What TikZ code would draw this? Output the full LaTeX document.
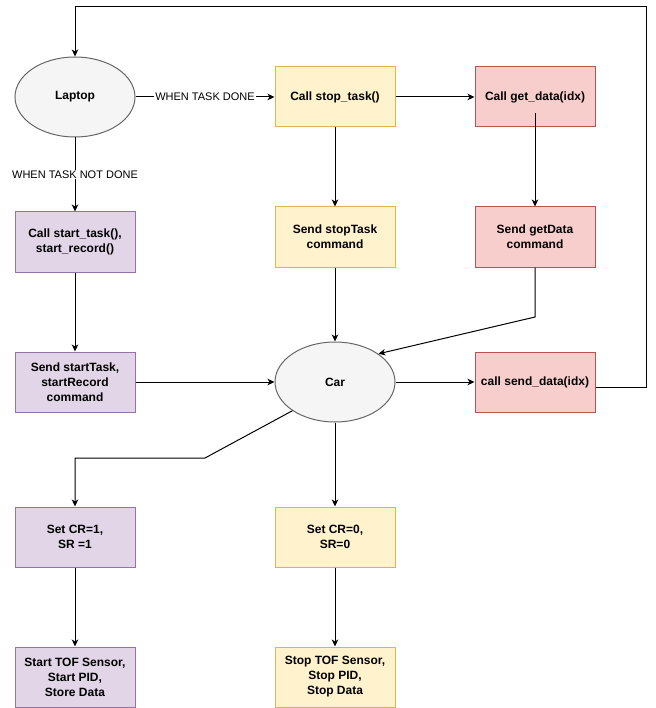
\documentclass[tikz,border=0pt]{standalone}
\usepackage{fontspec}
\setmainfont{Liberation Sans}
\usetikzlibrary{shapes.geometric,arrows.meta}

\definecolor{pfill}{HTML}{E1D5E7}
\definecolor{pline}{HTML}{9673A6}
\definecolor{yfill}{HTML}{FFF2CC}
\definecolor{yline}{HTML}{D6B656}
\definecolor{rfill}{HTML}{F8CECC}
\definecolor{rline}{HTML}{B85450}
\definecolor{ofill}{HTML}{F5F5F5}
\definecolor{oline}{HTML}{666666}

\begin{document}
\begin{tikzpicture}[x=1pt,y=-1pt,line width=1pt,
    >={Stealth[length=7pt,width=6.5pt,inset=2pt]},
    box/.style={rectangle,draw,minimum width=120pt,minimum height=60pt,inner sep=0pt,
      align=center,font=\fontsize{12}{15}\selectfont\bfseries},
    pbox/.style={box,fill=pfill,draw=pline},
    ybox/.style={box,fill=yfill,draw=yline},
    rbox/.style={box,fill=rfill,draw=rline},
    oval/.style={ellipse,draw=oline,fill=ofill,minimum width=120pt,minimum height=80pt,
      inner sep=0pt,font=\fontsize{12}{15}\selectfont\bfseries},
    cond/.style={fill=white,inner sep=1pt,font=\fontsize{11}{13}\selectfont}]
  \useasboundingbox (0,0) rectangle (655,708);

  \node[oval] (Lap) at (75,97) {Laptop};
  \node[ybox] (Stop) at (335,97) {Call stop\_task()};
  \node[rbox] (Get) at (535,97) {Call get\_data(idx)};
  \node[pbox] (Start) at (75,242) {Call start\_task(),\\start\_record()};
  \node[ybox] (SendStop) at (335,237) {Send stopTask\\command};
  \node[rbox] (SendGet) at (535,237) {Send getData\\command};
  \node[pbox] (SendStart) at (75,382) {Send startTask,\\startRecord\\command};
  \node[oval] (Car) at (335,382) {Car};
  \node[rbox] (SendData) at (535,382) {call send\_data(idx)};
  \node[pbox] (SetOn) at (75,537) {Set CR=1,\\SR =1};
  \node[ybox] (SetOff) at (335,537) {Set CR=0,\\SR=0};
  \node[pbox] (TofOn) at (75,677) {Start TOF Sensor,\\Start PID,\\Store Data};
  \node[ybox] (TofOff) at (335,677) {Stop TOF Sensor,\\Stop PID,\\Stop Data};

  \coordinate (GetOut) at (535,113);

  \draw[->] (Lap) -- node[cond] {WHEN TASK DONE} (Stop);
  \draw[->] (Lap) -- node[cond] {WHEN TASK NOT DONE} (Start);
  \draw[->] (Stop) -- (Get);
  \draw[->] (Stop) -- (SendStop);
  \draw[->] (GetOut) -- (SendGet);
  \draw[->] (Start) -- (SendStart);
  \draw[->] (SendStop) -- (Car);
  \draw[->] (SendGet.south) -- (535,317) -- (Car.33);
  \draw[->] (SendStart) -- (Car);
  \draw[->] (Car) -- (SendData);
  \draw[->] (Car) -- (SetOff);
  \draw[->] (Car.214) -- (205,458) -| (SetOn);
  \draw[->] (SetOn) -- (TofOn);
  \draw[->] (SetOff) -- (TofOff);
  \draw[->] ([yshift=-5pt]SendData.east) -| (646,7) -| (Lap);
\end{tikzpicture}
\end{document}
